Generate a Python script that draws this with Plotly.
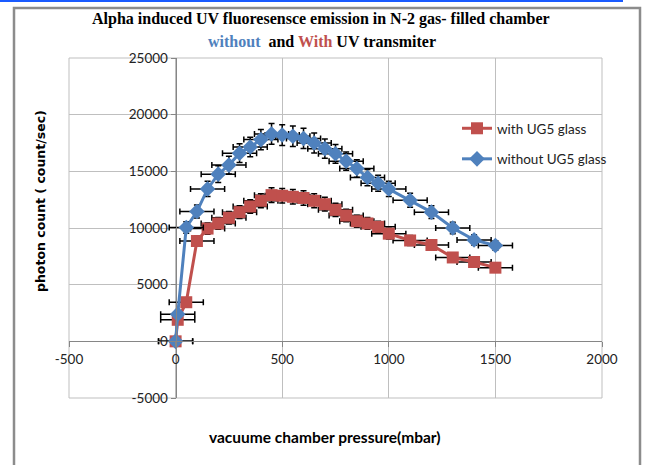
import plotly.graph_objects as go

pressure = [0, 10, 50, 100, 150, 200, 250, 300, 350, 400, 450, 500, 550, 600, 650,
            700, 750, 800, 850, 900, 950, 1000, 1100, 1200, 1300, 1400, 1500]
with_ug5 = [0, 1900, 3450, 8850, 9950, 10400, 10900, 11400, 11900, 12400, 12900, 12850,
            12750, 12650, 12400, 12100, 11600, 11100, 10600, 10400, 10100, 9500, 8900,
            8500, 7400, 7000, 6500]
without_ug5 = [0, 2400, 10050, 11450, 13450, 14750, 15550, 16600, 17150, 17800, 18300,
               18200, 18100, 17900, 17500, 17000, 16550, 15900, 15250, 14450, 13950, 13450,
               12450, 11400, 10000, 8950, 8450]
x_ticks = [-500, 0, 500, 1000, 1500, 2000]
y_ticks = [-5000, 0, 5000, 10000, 15000, 20000, 25000]

RED = "#C0504D"
BLUE = "#4F81BD"
FONT = "Lato"

err_x = dict(type="constant", value=80, color="black", thickness=1.5, width=3)
err_y = dict(type="percent", value=5, color="black", thickness=1.5, width=3)

fig = go.Figure()
fig.add_trace(go.Scatter(
    x=pressure, y=with_ug5, name="with UG5 glass", mode="lines+markers",
    legendgroup="a",
    line=dict(color=RED, width=3),
    marker=dict(symbol="square", size=12, color=RED),
    error_x=err_x, error_y=err_y))
fig.add_trace(go.Scatter(
    x=pressure, y=without_ug5, name="without UG5 glass", mode="lines+markers",
    legendgroup="b",
    line=dict(color=BLUE, width=3),
    marker=dict(symbol="diamond", size=12, color=BLUE),
    error_x=err_x, error_y=err_y))

L, R, T, B = 69, 43, 58, 67
W, H = 645, 465
pw, ph = W - L - R, H - T - B

def px(x):
    return (x - L) / pw

def py(y):
    return (H - B - y) / ph

fig.update_layout(
    width=W, height=H, autosize=False,
    margin=dict(l=L, r=R, t=T, b=B),
    paper_bgcolor="white", plot_bgcolor="white",
    font=dict(family=FONT, size=13.5, color="#222"),
    xaxis=dict(
        range=[-500, 2000], tickvals=x_ticks, ticktext=[str(v) for v in x_ticks],
        showgrid=True, gridcolor="#BFBFBF", gridwidth=1, zeroline=False,
        showline=True, linecolor="#868686", linewidth=1,
        ticks="outside", ticklen=5, tickcolor="#868686",
        anchor="free", position=1/6,
        tickfont=dict(family=FONT, size=13.5, color="#222")),
    yaxis=dict(
        range=[-5000, 25000], tickvals=y_ticks, ticktext=[str(v) for v in y_ticks],
        showgrid=True, gridcolor="#BFBFBF", gridwidth=1, zeroline=False,
        showline=True, linecolor="#868686", linewidth=1,
        ticks="outside", ticklen=5, tickcolor="#868686",
        anchor="free", position=0.2,
        tickfont=dict(family=FONT, size=13.5, color="#222")),
    legend=dict(x=px(457), y=py(113), xanchor="left", yanchor="top",
                bgcolor="rgba(0,0,0,0)", borderwidth=0,
                font=dict(family=FONT, size=13.5, color="#222"),
                tracegroupgap=10, itemwidth=30),
    showlegend=True,
)

# borders of the chart area and the plot area
fig.add_shape(type="rect", xref="paper", yref="paper",
              x0=px(69), x1=px(602), y0=py(398), y1=py(58),
              line=dict(color="#BFBFBF", width=1), layer="below")
fig.add_shape(type="rect", xref="paper", yref="paper",
              x0=px(14), x1=px(640), y0=py(500), y1=py(8),
              line=dict(color="#8C8C8C", width=2.5))
fig.add_shape(type="line", xref="paper", yref="paper",
              x0=px(0), x1=px(623), y0=py(1), y1=py(1),
              line=dict(color="#1A5BFF", width=2))

ann = dict(xref="paper", yref="paper", showarrow=False, xanchor="center", yanchor="middle")

# title lines
fig.add_annotation(text="<b>Alpha induced UV fluoresensce emission in N-2 gas- filled chamber</b>",
                   x=px(321), y=py(19),
                   font=dict(family="Liberation Serif", size=16, color="black"), **ann)
fig.add_annotation(text="<b><span style='color:%s'>without</span>  and "
                        "<span style='color:%s'>With</span> UV transmiter</b>" % (BLUE, RED),
                   x=px(322), y=py(42),
                   font=dict(family="Liberation Serif", size=16, color="black"), **ann)

# axis titles placed like the original
fig.add_annotation(text="<b>photon count ( count/sec)</b>", x=px(41), y=py(201),
                   textangle=-90,
                   font=dict(family="DejaVu Sans", size=12.5, color="black"), **ann)
fig.add_annotation(text="<b>vacuume chamber pressure(mbar)</b>", x=px(325), y=py(437),
                   font=dict(family=FONT, size=15.5, color="black"), **ann)

fig.write_html("out.html", config={"displayModeBar": False},
               post_script="document.body.style.margin='0px';")
